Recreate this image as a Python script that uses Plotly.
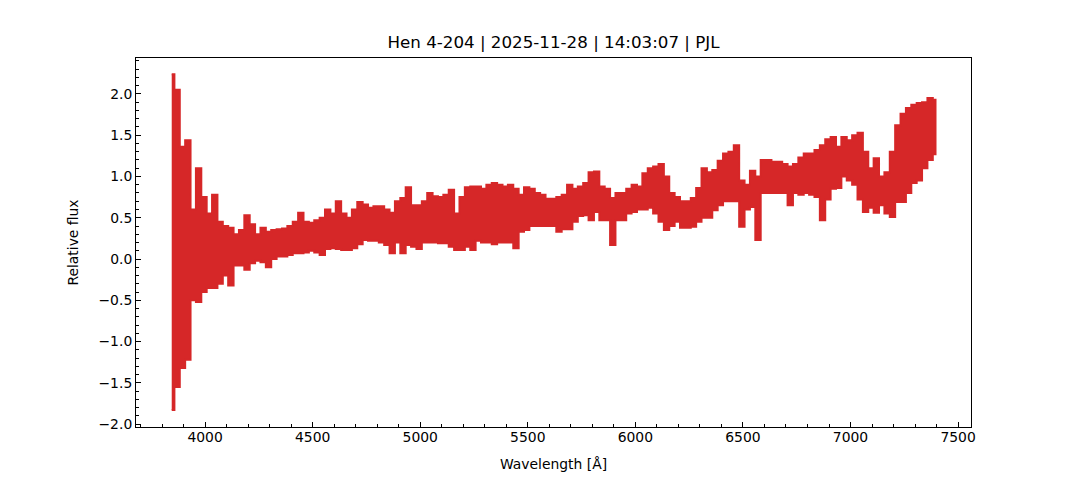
import plotly.graph_objects as go

# Sample wavelengths (Angstrom), every 25 A across the spectrum
wavelength = list(range(3845, 7396, 25))

# Upper envelope of the (noisy) relative flux at each sample
flux_hi = [
    2.24, 2.05, 1.36, 1.44, 0.60, 1.10, 0.75, 0.55, 0.78, 0.45, 0.40, 0.38, 0.30, 0.35, 0.53, 0.42, 0.30, 0.38,
    0.33, 0.35, 0.36, 0.37, 0.40, 0.45, 0.56, 0.45, 0.44, 0.47, 0.50, 0.60, 0.55, 0.70, 0.55, 0.50, 0.60, 0.69,
    0.66, 0.62, 0.64, 0.64, 0.60, 0.56, 0.70, 0.74,
    0.87, 0.65, 0.65, 0.70, 0.80, 0.76, 0.75, 0.78, 0.84, 0.55, 0.75, 0.87, 0.88, 0.88, 0.85, 0.90, 0.92, 0.90,
    0.88, 0.90, 0.85, 0.78, 0.87, 0.85,
    0.80, 0.78, 0.73, 0.73, 0.75, 0.78, 0.90, 0.85, 0.88, 0.92, 1.05, 1.06, 0.88, 0.85, 0.74, 0.80, 0.80, 0.85,
    0.90, 0.88, 1.04, 1.10, 1.12, 1.15, 1.00, 0.80, 0.75, 0.70, 0.70,
    0.74, 0.86, 1.10, 1.05, 1.08, 1.19, 1.28, 1.30, 1.38, 0.95, 0.90, 1.07, 1.00, 1.20, 1.20, 1.18, 1.18, 1.15,
    1.12, 1.15, 1.23, 1.28, 1.28, 1.32, 1.38, 1.45, 1.48,
    1.36, 1.48, 1.44, 1.50, 1.53, 1.30, 1.10, 1.22, 1.00, 1.05, 1.30, 1.62, 1.76, 1.83, 1.87, 1.89, 1.90, 1.95,
    1.93,
]

# Lower envelope of the relative flux at each sample
flux_lo = [
    -1.83, -1.55, -1.32, -1.22, -0.50, -0.52, -0.40, -0.35, -0.35, -0.30, -0.20, -0.32, -0.08, -0.08, -0.13, -0.05, -0.02, -0.04,
    -0.10, 0.00, 0.03, 0.03, 0.05, 0.07, 0.07, 0.08, 0.10, 0.08, 0.05, 0.12, 0.13, 0.12, 0.11, 0.11, 0.13, 0.18,
    0.23, 0.22, 0.22, 0.20, 0.17, 0.07, 0.20, 0.07,
    0.17, 0.15, 0.12, 0.20, 0.20, 0.20, 0.19, 0.19, 0.15, 0.11, 0.11, 0.15, 0.11, 0.22, 0.20, 0.20, 0.18, 0.20,
    0.20, 0.20, 0.13, 0.33, 0.35, 0.40,
    0.40, 0.40, 0.40, 0.40, 0.33, 0.36, 0.36, 0.45, 0.52, 0.53, 0.47, 0.57, 0.47, 0.47, 0.17, 0.47, 0.47, 0.55,
    0.57, 0.60, 0.60, 0.62, 0.55, 0.45, 0.35, 0.40, 0.45, 0.38, 0.38,
    0.39, 0.45, 0.50, 0.50, 0.59, 0.65, 0.70, 0.70, 0.70, 0.39, 0.60, 0.63, 0.23, 0.80, 0.80, 0.80, 0.80, 0.80,
    0.65, 0.80, 0.78, 0.80, 0.78, 0.75, 0.47, 0.72, 0.85,
    0.86, 1.00, 0.95, 0.90, 0.72, 0.57, 0.62, 0.56, 0.65, 0.55, 0.51, 0.69, 0.69, 0.80, 0.92, 0.95, 1.10, 1.20,
    1.27,
]

title_text = "Hen 4-204 | 2025-11-28 | 14:03:07 | PJL"
x_label = "Wavelength [Å]"
y_label = "Relative flux"

RED = "#d62728"
FONT = "DejaVu Sans"

# Closed outline: upper envelope left->right, lower envelope right->left
xs = wavelength + wavelength[::-1]
ys = flux_hi + flux_lo[::-1]

fig = go.Figure()
fig.add_trace(go.Scatter(
    x=xs, y=ys, mode="lines", fill="toself", fillcolor=RED,
    line=dict(color=RED, width=2, shape="hvh"),
    showlegend=False, hoverinfo="skip",
))

axis_common = dict(
    showline=True, mirror=True, linecolor="black", linewidth=1,
    showgrid=False, zeroline=False,
    ticks="inside", ticklen=5, tickwidth=1, tickcolor="black",
    tickfont=dict(family=FONT, size=13.9, color="black"),
)

fig.update_xaxes(
    **axis_common,
    range=[3679, 7560], tick0=4000, dtick=500, tickformat="d",
    ticklabelstandoff=-3,
    minor=dict(ticks="inside", ticklen=3, tickwidth=1, tickcolor="black", dtick=100, showgrid=False),
    title=dict(text=x_label, font=dict(family=FONT, size=13.9, color="black"), standoff=15),
)
fig.update_yaxes(
    **axis_common,
    range=[-2.036, 2.436], tick0=0, dtick=0.5, tickformat=".1f",
    minor=dict(ticks="inside", ticklen=3, tickwidth=1, tickcolor="black", dtick=0.1, showgrid=False),
    title=dict(text=y_label, font=dict(family=FONT, size=13.9, color="black"), standoff=16),
)

fig.update_layout(
    width=1080, height=480,
    margin=dict(l=136, r=109, t=58, b=53),
    paper_bgcolor="white", plot_bgcolor="white",
    title=dict(
        text=title_text, x=0.5, xref="paper", xanchor="center",
        y=1 - 42 / 480, yref="container", yanchor="middle",
        font=dict(family=FONT, size=16.7, color="black"),
    ),
    font=dict(family=FONT, color="black"),
)

fig.write_html(
    "out.html",
    config={"displayModeBar": False},
    post_script="document.body.style.margin='0px';",
)
